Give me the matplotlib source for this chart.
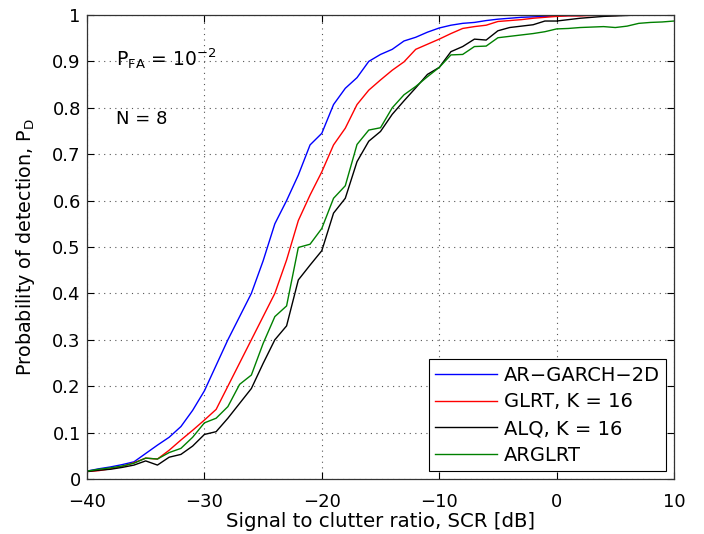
import numpy as np
import matplotlib
matplotlib.use("Agg")
import matplotlib.pyplot as plt

plt.rcParams['font.family'] = ['DejaVu Sans']
plt.rcParams['mathtext.fontset'] = 'dejavusans'

scr_db = list(range(-40, 11))

ar_garch_2d = [0.017, 0.022, 0.026, 0.031, 0.037, 0.055, 0.073, 0.090, 0.113, 0.148,
               0.190, 0.245, 0.300, 0.350, 0.400, 0.470, 0.550, 0.600, 0.655, 0.720,
               0.745, 0.807, 0.842, 0.865, 0.900, 0.915, 0.926, 0.944, 0.952, 0.963,
               0.972, 0.978, 0.982, 0.984, 0.988, 0.991, 0.993, 0.995, 0.996, 0.997,
               0.998, 0.999, 0.999, 1.0, 1.0, 1.0, 1.0, 1.0, 1.0, 1.0, 1.0]

glrt_k16 = [0.016, 0.018, 0.022, 0.027, 0.035, 0.045, 0.043, 0.062, 0.084, 0.105,
            0.127, 0.150, 0.200, 0.250, 0.300, 0.350, 0.400, 0.472, 0.557, 0.612,
            0.662, 0.720, 0.756, 0.807, 0.838, 0.860, 0.881, 0.899, 0.926, 0.937,
            0.948, 0.960, 0.971, 0.975, 0.978, 0.986, 0.988, 0.990, 0.993, 0.995,
            0.997, 0.998, 0.998, 0.999, 0.999, 0.999, 1.0, 1.0, 1.0, 1.0, 1.0]

alq_k16 = [0.016, 0.019, 0.021, 0.025, 0.030, 0.039, 0.030, 0.047, 0.053, 0.071,
           0.096, 0.102, 0.131, 0.163, 0.195, 0.249, 0.300, 0.330, 0.429, 0.461,
           0.492, 0.573, 0.605, 0.684, 0.728, 0.749, 0.786, 0.815, 0.843, 0.872,
           0.887, 0.921, 0.932, 0.948, 0.946, 0.966, 0.973, 0.976, 0.979, 0.987,
           0.987, 0.990, 0.993, 0.995, 0.997, 0.998, 0.999, 1.0, 1.0, 1.0, 1.0]

arglrt = [0.017, 0.021, 0.024, 0.028, 0.034, 0.045, 0.043, 0.057, 0.066, 0.090,
          0.121, 0.131, 0.156, 0.204, 0.224, 0.292, 0.350, 0.373, 0.499, 0.506,
          0.540, 0.605, 0.632, 0.721, 0.752, 0.757, 0.800, 0.828, 0.846, 0.867,
          0.887, 0.914, 0.915, 0.932, 0.933, 0.951, 0.954, 0.957, 0.960, 0.964,
          0.970, 0.971, 0.973, 0.974, 0.975, 0.973, 0.976, 0.982, 0.984, 0.985, 0.987]

labels = ['AR\u2212GARCH\u22122D', 'GLRT, K = 16', 'ALQ, K = 16', 'ARGLRT']
colors = ['#0000ff', '#ff0000', '#000000', '#008000']
x_ticks = [-40, -30, -20, -10, 0, 10]
y_ticks = [0, 0.1, 0.2, 0.3, 0.4, 0.5, 0.6, 0.7, 0.8, 0.9, 1]
y_ticklabels = ['0', '0.1', '0.2', '0.3', '0.4', '0.5', '0.6', '0.7', '0.8', '0.9', '1']

fig = plt.figure(figsize=(7.04, 5.34), dpi=100)
ax = fig.add_axes([87/704, 55/534, 587/704, 464/534])

for series, lab, col in zip([ar_garch_2d, glrt_k16, alq_k16, arglrt], labels, colors):
    ax.plot(scr_db, series, color=col, lw=1.0, label=lab)

ax.set_xlim(-40, 10)
ax.set_ylim(0, 1)
ax.set_xticks(x_ticks)
ax.set_yticks(y_ticks)
ax.set_yticklabels(y_ticklabels)
ax.tick_params(direction='in', top=True, right=True, labelsize=13, length=5, width=0.8)
ax.tick_params(axis='x', pad=10)
ax.tick_params(axis='y', pad=4.5)
ax.grid(True, linestyle=(0, (1, 4)), color='#555555', lw=0.8)
for s in ax.spines.values():
    s.set_linewidth(0.9)
    s.set_color('#333333')

ax.set_xlabel('Signal to clutter ratio, SCR [dB]', fontsize=14.2, labelpad=1)
ax.set_ylabel(r'Probability of detection, P$_\mathregular{D}$', fontsize=13.8, labelpad=11)

ax.text(-37.5, 0.905, r'P$_\mathregular{FA}$ = 10$^{-2}$', fontsize=13.5, va='center', ha='left')
ax.text(-37.5, 0.776, 'N = 8', fontsize=13, va='center', ha='left')

leg = ax.legend(loc='lower right', fontsize=14, frameon=True, fancybox=False,
                edgecolor='black', framealpha=1, handlelength=3.2, borderpad=0.32,
                labelspacing=0.4, handletextpad=0.35, borderaxespad=0.4)
leg.get_frame().set_linewidth(0.8)

fig.savefig('out.png', dpi=100)
